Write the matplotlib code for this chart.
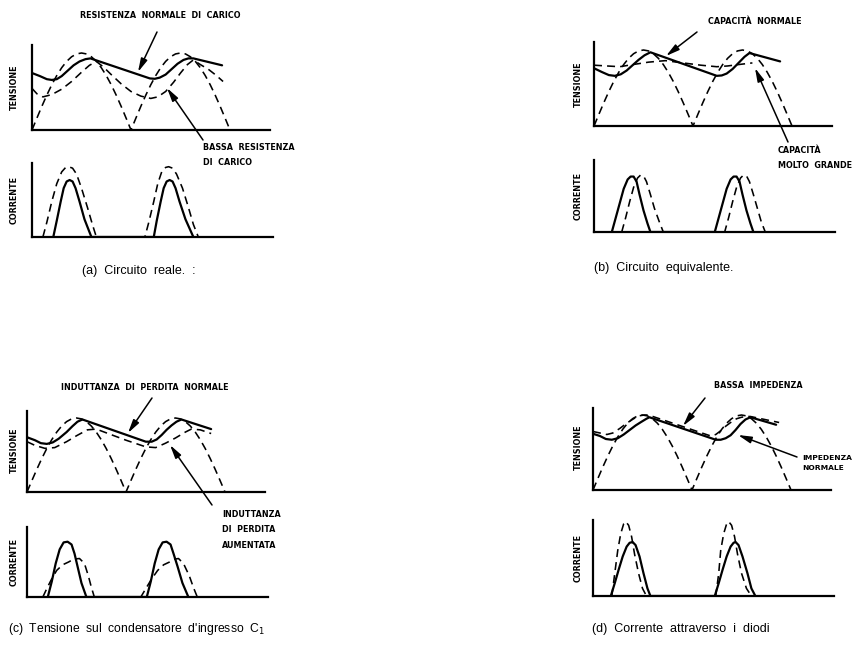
"""full-wave rectifier with capacitor input: voltage and diode current sketches"""

import matplotlib.pyplot as plt

# x in half periods of the mains, tension y as fraction of the peak,
# current y as fraction of the current axis height

# rectified sine, one half period (read from the dashed humps)
hump_x = [0, .05, .1, .15, .2, .25, .3, .35, .4, .45, .5,
          .55, .6, .65, .7, .75, .8, .85, .9, .95, 1.0]
hump_y = [0, .156, .309, .454, .588, .707, .809, .891, .951, .988, 1.0,
          .988, .951, .891, .809, .707, .588, .454, .309, .156, 0]
rect_x = hump_x + [1 + v for v in hump_x[1:]]
rect_y = hump_y + hump_y[1:]

# (a) circuito reale
a_norm_x = [0, .08, .15, .2, .25, .3, .36, .42, .48, .54, .59,
            1.19, 1.24, 1.29, 1.35, 1.41, 1.47, 1.53, 1.58, 1.63, 1.92]
a_norm_y = [.74, .70, .66, .65, .66, .70, .77, .84, .89, .92, .93,
            .67, .665, .68, .72, .79, .86, .91, .93, .93, .84]
a_low_x = [0, .05, .11, .2, .3, .4, .5, .58, .65, .72, .8, .9, 1.0, 1.1,
           1.2, 1.27, 1.35, 1.43, 1.5, 1.57, 1.63, 1.7, 1.78, 1.86, 1.93]
a_low_y = [.54, .47, .43, .46, .53, .63, .75, .84, .89, .82, .72, .6, .5, .44,
           .41, .43, .5, .62, .74, .85, .91, .85, .79, .71, .63]
a_inorm_x = [.215, .25, .29, .32, .35, .38, .41, .44, .48, .53, .6,
             1.23, 1.26, 1.3, 1.33, 1.36, 1.39, 1.42, 1.45, 1.49, 1.55, 1.63]
a_inorm_y = [0, .22, .48, .66, .75, .77, .75, .66, .48, .24, 0,
             0, .22, .48, .66, .75, .77, .75, .66, .48, .24, 0]
a_ilow_x = [.11, .15, .2, .25, .3, .34, .37, .41, .45, .5, .56, .61, .65,
            1.14, 1.18, 1.23, 1.27, 1.31, 1.35, 1.38, 1.42, 1.46, 1.52, 1.58, 1.63, 1.68]
a_ilow_y = [0, .2, .48, .72, .88, .94, .95, .93, .85, .66, .4, .17, 0,
            0, .2, .48, .72, .88, .94, .95, .93, .85, .66, .4, .17, 0]

# (b) circuito equivalente
b_norm_x = [0, .08, .15, .21, .27, .33, .39, .45, .51, .57,
            1.24, 1.29, 1.34, 1.4, 1.46, 1.52, 1.57, 1.88]
b_norm_y = [.76, .71, .67, .66, .68, .73, .80, .87, .93, .97,
            .66, .665, .69, .75, .83, .91, .96, .85]
b_big_x = [0, .13, .26, .4, .55, .72, .9, 1.08, 1.24, 1.35, 1.47, 1.6]
b_big_y = [.80, .79, .78, .81, .84, .86, .83, .80, .78, .79, .81, .83]
b_inorm_x = [.18, .22, .26, .3, .34, .37, .4, .43, .46, .5, .54, .57,
             1.22, 1.26, 1.3, 1.34, 1.38, 1.41, 1.44, 1.47, 1.5, 1.54, 1.58, 1.61]
b_inorm_y = [0, .2, .4, .6, .73, .77, .77, .7, .52, .3, .12, 0,
             0, .2, .4, .6, .73, .77, .77, .7, .52, .3, .12, 0]
b_ibig_x = [.28, .32, .36, .4, .44, .47, .5, .53, .57, .61, .66, .70,
            1.32, 1.36, 1.4, 1.44, 1.48, 1.51, 1.54, 1.57, 1.61, 1.65, 1.69, 1.73]
b_ibig_y = [0, .2, .42, .62, .75, .79, .78, .7, .52, .33, .14, 0,
            0, .2, .42, .62, .75, .79, .78, .7, .52, .33, .14, 0]

# (c) tensione sul condensatore d'ingresso
c_norm_x = [0, .08, .14, .2, .26, .32, .4, .46, .51, .56,
            1.2, 1.26, 1.31, 1.36, 1.41, 1.46, 1.51, 1.56, 1.86]
c_norm_y = [.74, .70, .66, .65, .67, .72, .81, .89, .95, .98,
            .68, .68, .71, .77, .84, .90, .95, .98, .85]
c_high_x = [0, .08, .18, .28, .4, .5, .61, .7, .8, 1.0, 1.2, 1.3,
            1.4, 1.5, 1.6, 1.66, 1.75, 1.86]
c_high_y = [.68, .63, .59, .60, .68, .76, .84, .85, .80, .70, .61, .60,
            .66, .73, .81, .85, .84, .79]
c_inorm_x = [.21, .25, .29, .33, .37, .41, .45, .48, .51, .55, .6,
             1.21, 1.25, 1.29, 1.33, 1.37, 1.41, 1.45, 1.48, 1.52, 1.57, 1.63]
c_inorm_y = [0, .22, .48, .68, .78, .79, .75, .62, .44, .2, 0,
             0, .22, .48, .68, .78, .79, .75, .62, .44, .2, 0]
c_ihigh_x = [.16, .2, .25, .3, .36, .42, .47, .53, .58, .62, .65, .68,
             1.15, 1.2, 1.26, 1.32, 1.38, 1.44, 1.49, 1.53, 1.58, 1.64, 1.68, 1.72]
c_ihigh_y = [0, .12, .26, .38, .46, .5, .54, .55, .48, .3, .14, 0,
             0, .12, .26, .38, .46, .5, .54, .55, .48, .3, .14, 0]

# (d) corrente attraverso i diodi
d_norm_x = [0, .07, .13, .19, .25, .31, .37, .43, .49, .54, .57,
            1.24, 1.29, 1.34, 1.39, 1.44, 1.49, 1.54, 1.59, 1.85]
d_norm_y = [.75, .72, .68, .67, .69, .74, .80, .86, .91, .95, .97,
            .67, .67, .69, .73, .80, .88, .94, .97, .87]
d_low_x = [0, .07, .14, .2, .27, .34, .41, .47, .52, .56,
           1.19, 1.24, 1.29, 1.34, 1.39, 1.45, 1.5, 1.55, 1.59, 1.88]
d_low_y = [.78, .76, .74, .76, .82, .89, .95, .99, 1.0, 1.0,
           .72, .74, .79, .85, .90, .95, .97, .98, .98, .90]
d_inorm_x = [.18, .22, .26, .3, .34, .37, .4, .43, .47, .51, .55, .58,
             1.23, 1.27, 1.31, 1.35, 1.39, 1.42, 1.44, 1.47, 1.51, 1.56, 1.6, 1.64]
d_inorm_y = [0, .17, .35, .52, .65, .7, .71, .67, .52, .3, .1, 0,
             0, .17, .35, .52, .65, .7, .71, .67, .52, .3, .1, 0]
d_ilow_x = [.19, .22, .25, .28, .31, .33, .36, .39, .42, .46, .5, .54,
            1.24, 1.27, 1.29, 1.32, 1.35, 1.37, 1.4, 1.43, 1.46, 1.5, 1.55, 1.6]
d_ilow_y = [0, .3, .6, .82, .95, .98, .93, .78, .55, .3, .1, 0,
            0, .3, .6, .82, .95, .98, .93, .78, .55, .3, .1, 0]

W, H = 852, 651
HALF = 99  # pixels per half period

fig = plt.figure(figsize=(W / 100, H / 100), dpi=100)

def px_axes(left, base, height, xmax, ytop):
    ax = fig.add_axes([left / W, 1 - base / H, xmax * HALF / W, height / H])
    ax.set_xlim(0, xmax)
    ax.set_ylim(0, ytop)
    for s in ["top", "right"]:
        ax.spines[s].set_visible(False)
    for s in ["left", "bottom"]:
        ax.spines[s].set_linewidth(1.6)
    ax.set_xticks([])
    ax.set_yticks([])
    ax.patch.set_alpha(0)
    return ax

solid = dict(color="black", lw=1.6, solid_capstyle="round")
dashed = dict(color="black", lw=1.15, dashes=(5, 3.2))

panels = [
    # left px, tension base, amp, current base, current height, curves
    (32, 130, 77, 237, 74, a_norm_x, a_norm_y, a_low_x, a_low_y,
     a_inorm_x, a_inorm_y, a_ilow_x, a_ilow_y),
    (594, 126, 76, 232, 72, b_norm_x, b_norm_y, b_big_x, b_big_y,
     b_inorm_x, b_inorm_y, b_ibig_x, b_ibig_y),
    (27, 492, 74, 597, 70, c_norm_x, c_norm_y, c_high_x, c_high_y,
     c_inorm_x, c_inorm_y, c_ihigh_x, c_ihigh_y),
    (593, 490, 75, 596, 76, d_norm_x, d_norm_y, d_low_x, d_low_y,
     d_inorm_x, d_inorm_y, d_ilow_x, d_ilow_y),
]

for left, vbase, amp, ibase, ih, vx, vy, vx2, vy2, ix, iy, ix2, iy2 in panels:
    axv = px_axes(left, vbase, 1.1 * amp, 2.4, 1.1)
    axv.plot(rect_x, rect_y, **dashed)
    axv.plot(vx2, vy2, **dashed)
    axv.plot(vx, vy, **solid)
    axi = px_axes(left, ibase, ih, 2.43, 1.0)
    axi.plot(ix2, iy2, **dashed)
    axi.plot(ix, iy, **solid)

# overlay in pixel coordinates for labels and arrows
ov = fig.add_axes([0, 0, 1, 1])
ov.set_xlim(0, W)
ov.set_ylim(H, 0)
ov.axis("off")

lab = dict(fontsize=5.8, fontweight="bold", family="DejaVu Sans", color="black")
cap = dict(fontsize=9, family="Liberation Sans", color="black")

def arrow(tail, tip):
    ov.annotate("", xy=tip, xytext=tail,
                arrowprops=dict(arrowstyle="-|>,head_length=0.8,head_width=0.2",
                                color="black", lw=1.1, shrinkA=0, shrinkB=0))

# axis names
for x, yv, yi in [(14, 87, 200), (578, 84, 196), (14, 450, 562), (578, 447, 558)]:
    ov.text(x, yv, "TENSIONE", rotation=90, ha="center", va="center", **lab)
    ov.text(x, yi, "CORRENTE", rotation=90, ha="center", va="center", **lab)

# (a)
ov.text(160, 16, "RESISTENZA  NORMALE  DI  CARICO", ha="center", va="center", **lab)
arrow((157, 32), (138, 72))
ov.text(203, 155, "BASSA  RESISTENZA\nDI  CARICO", ha="left", va="center",
        linespacing=1.9, **lab)
arrow((203, 140), (167, 88))
ov.text(82, 271, "(a)  Circuito  reale.  :", ha="left", va="center", **cap)

# (b)
ov.text(755, 22, "CAPACITÀ  NORMALE", ha="center", va="center", **lab)
arrow((697, 32), (666, 56))
ov.text(778, 158, "CAPACITÀ\nMOLTO  GRANDE", ha="left", va="center",
        linespacing=1.9, **lab)
arrow((788, 142), (755, 68))
ov.text(594, 268, "(b)  Circuito  equivalente.", ha="left", va="center", **cap)

# (c)
ov.text(145, 387, "INDUTTANZA  DI  PERDITA  NORMALE", ha="center", va="center", **lab)
arrow((152, 398), (128, 433))
ov.text(222, 530, "INDUTTANZA\nDI  PERDITA\nAUMENTATA", ha="left", va="center",
        linespacing=1.9, **lab)
arrow((212, 505), (170, 445))
ov.text(8, 629, "(c)  Tensione  sul  condensatore  d'ingresso  C$_1$",
        ha="left", va="center", fontsize=8.7, family="Liberation Sans", color="black")

# (d)
ov.text(802, 463, "IMPEDENZA\nNORMALE", ha="left", va="center",
        linespacing=1.9, fontsize=5.4, fontweight="bold", family="DejaVu Sans",
        color="black")
ov.text(758, 385, "BASSA  IMPEDENZA", ha="center", va="center", **lab)
arrow((705, 398), (683, 426))
arrow((797, 457), (738, 435))
ov.text(592, 629, "(d)  Corrente  attraverso  i  diodi", ha="left", va="center", **cap)

fig.savefig("out.png", dpi=100, facecolor="white")
